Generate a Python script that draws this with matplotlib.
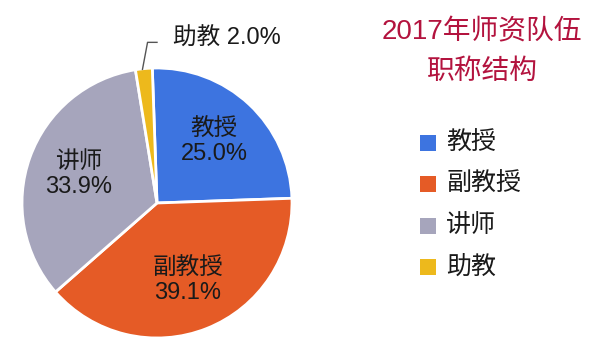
import numpy as np
import matplotlib
matplotlib.use("Agg")
import matplotlib.pyplot as plt
from matplotlib.patches import Rectangle

plt.rcParams['font.family'] = ['Liberation Sans', 'Noto Sans CJK SC', 'DejaVu Sans']

categories = ['教授', '副教授', '讲师', '助教']
values = [25.0, 39.1, 33.9, 2.0]
colors = ['#3D74E0', '#E55B26', '#A6A5BC', '#EDB91C']
title_lines = ['2017年师资队伍', '职称结构']

W, H = 600, 359
fig = plt.figure(figsize=(W / 100, H / 100), dpi=100)
fig.patch.set_facecolor('white')

# pie axes: center (157,203) px, radius 135 px
cx, cy, r = 157, 203, 135
ax = fig.add_axes([(cx - r) / W, (H - cy - r) / H, 2 * r / W, 2 * r / H])
wedges, _ = ax.pie(values, colors=colors, startangle=92, counterclock=False,
                   radius=1, wedgeprops=dict(edgecolor='white', linewidth=2))
ax.set_xlim(-1, 1)
ax.set_ylim(-1, 1)
ax.set_aspect('equal')
ax.axis('off')

txtcol = '#1a1a1a'
for w, name, v in zip(wedges, categories, values):
    mid = np.deg2rad((w.theta1 + w.theta2) / 2)
    if v < 5:
        # outside label with leader line
        x0, y0 = 1.0 * np.cos(mid), 1.0 * np.sin(mid)
        ax.plot([x0 - 0.1 * np.cos(mid) * 0 - 0.01, -0.07, 0.0],
                [0.99, 1.19, 1.19], color='#555555', lw=1, clip_on=False)
        ax.text(0.12, 1.22, f'{name} {v:.1f}%', ha='left', va='center',
                fontsize=17, color=txtcol, clip_on=False)
    else:
        d = 0.62
        ax.text(d * np.cos(mid), d * np.sin(mid), f'{name}\n{v:.1f}%',
                ha='center', va='center', fontsize=17, color=txtcol,
                linespacing=1.15)

# title
fig.text(482 / W, 1 - 32 / H, title_lines[0], ha='center', va='center',
         fontsize=20, color='#B3133E')
fig.text(482 / W, 1 - 72 / H, title_lines[1], ha='center', va='center',
         fontsize=20, color='#B3133E')

# legend
ys = [143, 184, 226, 267]
for yv, name, c in zip(ys, categories, colors):
    fig.patches.append(Rectangle((420 / W, 1 - (yv + 8) / H), 16 / W, 16 / H,
                                 transform=fig.transFigure, facecolor=c,
                                 edgecolor='none'))
    fig.text(446 / W, 1 - yv / H, name, ha='left', va='center',
             fontsize=18, color=txtcol)

fig.savefig('out.png', dpi=100)
